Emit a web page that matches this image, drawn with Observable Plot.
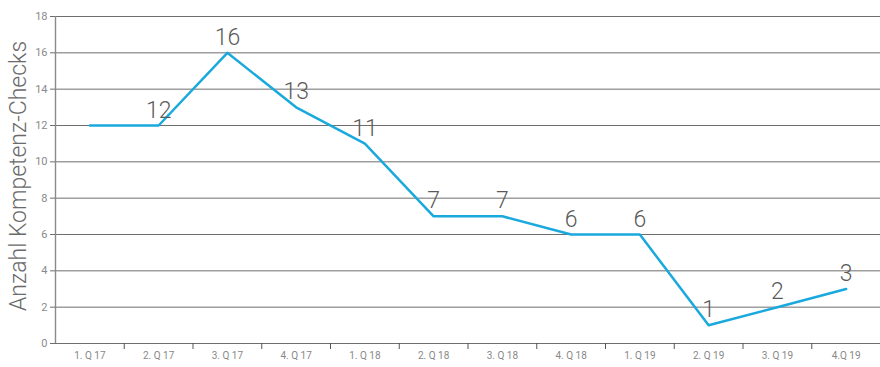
<!DOCTYPE html>
<html>
<head>
<meta charset="utf-8">
<script src="https://cdn.jsdelivr.net/npm/d3@7"></script>
<script src="https://cdn.jsdelivr.net/npm/@observablehq/plot@0.6"></script>
<style>
  html, body { margin: 0; padding: 0; background: #fff; }
  svg { font-family: Roboto, "Open Sans", sans-serif; }
</style>
</head>
<body>
<div id="chart"></div>
<script>
const quarters = ["1. Q 17", "2. Q 17", "3. Q 17", "4. Q 17", "1. Q 18", "2. Q 18", "3. Q 18", "4. Q 18", "1. Q 19", "2. Q 19", "3. Q 19", "4.Q 19"];
const checks = [12, 12, 16, 13, 11, 7, 7, 6, 6, 1, 2, 3];
const pointLabels = ["", "12", "16", "13", "11", "7", "7", "6", "6", "1", "2", "3"];
const yTicks = [0, 2, 4, 6, 8, 10, 12, 14, 16, 18];
const yLabel = "Anzahl Kompetenz-Checks";

const data = quarters.map((q, i) => ({q, i, pos: i + 0.5, v: checks[i], label: pointLabels[i]}));
const boundaries = d3.range(0, quarters.length + 1);

const chart = Plot.plot({
  width: 880,
  height: 367,
  marginLeft: 55,
  marginRight: 0,
  marginTop: 16,
  marginBottom: 24,
  x: {type: "linear", domain: [0, quarters.length], axis: null},
  y: {type: "linear", domain: [0, 18], axis: null},
  marks: [
    Plot.ruleY(yTicks, {y: d => d, stroke: "#6e6e6e", strokeWidth: 1}),
    Plot.ruleX([0], {x: d => d, y1: () => 0, y2: () => 18, stroke: "#8a8a8a", strokeWidth: 1.4}),
    Plot.axisY({ticks: yTicks, tickSize: 5, tickPadding: 3, tickFormat: d => d, fontSize: 11, color: "#8a8a8a", stroke: "#6e6e6e", label: null}),
    Plot.axisX({ticks: boundaries.slice(1, -1), tickSize: 6, tickFormat: () => "", stroke: "#555", label: null}),
    Plot.axisX({ticks: data.map(d => d.pos), tickSize: 0, tickPadding: 8, tickFormat: (d) => quarters[Math.floor(d)], fontSize: 10, color: "#888", label: null}),
    Plot.line(data, {x: "pos", y: "v", stroke: "#1aa9dd", strokeWidth: 2.5}),
    Plot.text(data.filter(d => d.label), {x: "pos", y: "v", text: "label", lineAnchor: "bottom", dy: -8, fontSize: 23, fontWeight: 300, fill: "#5a5a5a"}),
    Plot.text([yLabel], {frameAnchor: "left", textAnchor: "middle", rotate: -90, dx: -37, dy: -4, fontSize: 23, fontWeight: 300, fill: "#6a6a6a"})
  ]
});
document.getElementById("chart").appendChild(chart);
</script>
</body>
</html>
